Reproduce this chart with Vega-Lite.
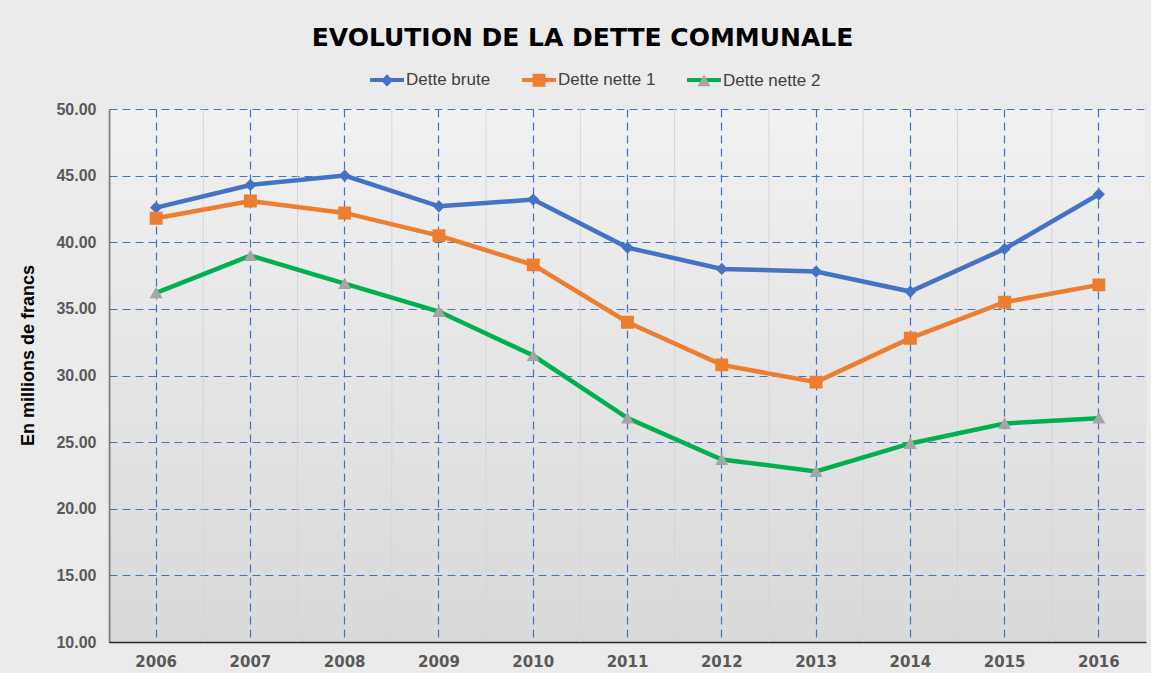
{
  "$schema": "https://vega.github.io/schema/vega-lite/v6.json",
  "width": 1037,
  "height": 533,
  "autosize": {"type": "none"},
  "padding": {"left": 109, "top": 109, "right": 5, "bottom": 31},
  "background": "#ebebeb",
  "title": {
    "text": "EVOLUTION DE LA DETTE COMMUNALE",
    "font": "DejaVu Sans",
    "fontSize": 25,
    "fontWeight": "bold",
    "color": "#000000",
    "anchor": "middle",
    "frame": "bounds",
    "offset": 10
  },
  "config": {
    "view": {
      "stroke": null,
      "fill": {
        "gradient": "linear",
        "x1": 0, "y1": 0, "x2": 0, "y2": 1,
        "stops": [
          {"offset": 0, "color": "#f1f1f1"},
          {"offset": 1, "color": "#d9d9d9"}
        ]
      }
    },
    "axisX": {
      "title": null,
      "labelAngle": 0,
      "labelFont": "DejaVu Sans",
      "labelFontSize": 15,
      "labelFontWeight": "bold",
      "labelColor": "#595959",
      "labelPadding": 12,
      "ticks": false,
      "domainColor": "#262626",
      "domainWidth": 1.5,
      "grid": true,
      "gridColor": "#4472C4",
      "gridDash": [8, 5],
      "gridWidth": 1.2,
      "bandPosition": 0.5
    },
    "axisY": {
      "titleFont": "Liberation Sans",
      "titleFontSize": 18,
      "titleFontWeight": "bold",
      "titleColor": "#000000",
      "titleX": -72,
      "titleY": 246,
      "labelFont": "Liberation Sans",
      "labelFontSize": 16,
      "labelFontWeight": "bold",
      "labelColor": "#595959",
      "labelPadding": 13,
      "ticks": false,
      "domainColor": "#262626",
      "domainWidth": 1.5,
      "grid": true,
      "gridColor": "#4472C4",
      "gridDash": [8, 5],
      "gridWidth": 1.2
    },
    "legend": {
      "labelFont": "Liberation Sans",
      "labelFontSize": 17,
      "labelColor": "#404040",
      "padding": 0
    }
  },
  "data": {
    "values": [
      {"year": "2006", "series": "Dette brute", "value": 42.6},
      {"year": "2007", "series": "Dette brute", "value": 44.3},
      {"year": "2008", "series": "Dette brute", "value": 45.0},
      {"year": "2009", "series": "Dette brute", "value": 42.7},
      {"year": "2010", "series": "Dette brute", "value": 43.2},
      {"year": "2011", "series": "Dette brute", "value": 39.6},
      {"year": "2012", "series": "Dette brute", "value": 38.0},
      {"year": "2013", "series": "Dette brute", "value": 37.8},
      {"year": "2014", "series": "Dette brute", "value": 36.3},
      {"year": "2015", "series": "Dette brute", "value": 39.5},
      {"year": "2016", "series": "Dette brute", "value": 43.6},
      {"year": "2006", "series": "Dette nette 1", "value": 41.8},
      {"year": "2007", "series": "Dette nette 1", "value": 43.1},
      {"year": "2008", "series": "Dette nette 1", "value": 42.2},
      {"year": "2009", "series": "Dette nette 1", "value": 40.5},
      {"year": "2010", "series": "Dette nette 1", "value": 38.3},
      {"year": "2011", "series": "Dette nette 1", "value": 34.0},
      {"year": "2012", "series": "Dette nette 1", "value": 30.8},
      {"year": "2013", "series": "Dette nette 1", "value": 29.5},
      {"year": "2014", "series": "Dette nette 1", "value": 32.8},
      {"year": "2015", "series": "Dette nette 1", "value": 35.5},
      {"year": "2016", "series": "Dette nette 1", "value": 36.8},
      {"year": "2006", "series": "Dette nette 2", "value": 36.2},
      {"year": "2007", "series": "Dette nette 2", "value": 39.0},
      {"year": "2008", "series": "Dette nette 2", "value": 36.9},
      {"year": "2009", "series": "Dette nette 2", "value": 34.8},
      {"year": "2010", "series": "Dette nette 2", "value": 31.5},
      {"year": "2011", "series": "Dette nette 2", "value": 26.8},
      {"year": "2012", "series": "Dette nette 2", "value": 23.7},
      {"year": "2013", "series": "Dette nette 2", "value": 22.8},
      {"year": "2014", "series": "Dette nette 2", "value": 24.9},
      {"year": "2015", "series": "Dette nette 2", "value": 26.4},
      {"year": "2016", "series": "Dette nette 2", "value": 26.8}
    ]
  },
  "layer": [
    {
      "transform": [{"filter": "datum.series === 'Dette brute'"}],
      "mark": {"type": "rule", "color": "#d6d6d6", "strokeWidth": 1},
      "encoding": {
        "x": {
          "field": "year", "type": "ordinal", "bandPosition": 0,
          "scale": {"type": "band", "paddingInner": 0, "paddingOuter": 0},
          "axis": {"title": null}
        }
      }
    },
    {
      "mark": {"type": "line", "strokeWidth": 4.5},
      "encoding": {
        "x": {
          "field": "year", "type": "ordinal", "bandPosition": 0.5,
          "scale": {"type": "band", "paddingInner": 0, "paddingOuter": 0},
          "axis": {"title": null}
        },
        "y": {
          "field": "value", "type": "quantitative",
          "scale": {"domain": [10, 50], "nice": false, "zero": false},
          "axis": {
            "title": "En  millions de francs",
            "values": [10, 15, 20, 25, 30, 35, 40, 45, 50],
            "format": ".2f"
          }
        },
        "stroke": {
          "field": "series", "type": "nominal",
          "scale": {"range": ["#4472C4", "#ED7D31", "#00B050"]},
          "legend": {
            "title": null,
            "orient": "none",
            "legendX": 259,
            "legendY": -48,
            "direction": "horizontal",
            "symbolType": "M-1,0L1,0",
            "symbolSize": 1156,
            "symbolStrokeWidth": 4,
            "labelOffset": 0,
            "labelOpacity": 0,
            "columnPadding": 23,
            "zindex": 0
          }
        }
      }
    },
    {
      "mark": {"type": "point", "filled": true, "opacity": 1, "size": 1156, "strokeWidth": 0},
      "encoding": {
        "x": {
          "field": "year", "type": "ordinal", "bandPosition": 0.5,
          "scale": {"type": "band", "paddingInner": 0, "paddingOuter": 0},
          "axis": {"title": null}
        },
        "y": {
          "field": "value", "type": "quantitative",
          "scale": {"domain": [10, 50], "nice": false, "zero": false},
          "axis": {
            "title": "En  millions de francs",
            "values": [10, 15, 20, 25, 30, 35, 40, 45, 50],
            "format": ".2f"
          }
        },
        "fill": {
          "field": "series", "type": "nominal",
          "scale": {
            "domain": ["Dette brute", "Dette nette 1", "Dette nette 2"],
            "range": ["#4472C4", "#ED7D31", "#A5A5A5"]
          },
          "legend": {
            "title": null,
            "orient": "none",
            "legendX": 259,
            "legendY": -48,
            "direction": "horizontal",
            "symbolSize": 1156,
            "symbolStrokeWidth": 4,
            "symbolStrokeColor": "transparent",
            "labelOffset": 0,
            "columnPadding": 23,
            "zindex": 1
          }
        },
        "shape": {
          "field": "series", "type": "nominal",
          "scale": {
            "domain": ["Dette brute", "Dette nette 1", "Dette nette 2"],
            "range": [
              "M-1,0L1,0M0,-0.36L0.36,0L0,0.36L-0.36,0Z",
              "M-1,0L1,0M-0.38,-0.38L0.38,-0.38L0.38,0.38L-0.38,0.38Z",
              "M-1,0L1,0M0,-0.36L0.38,0.32L-0.38,0.32Z"
            ]
          },
          "legend": {
            "title": null,
            "orient": "none",
            "legendX": 259,
            "legendY": -48,
            "direction": "horizontal",
            "symbolSize": 1156,
            "symbolStrokeWidth": 4,
            "symbolStrokeColor": "transparent",
            "labelOffset": 0,
            "columnPadding": 23,
            "zindex": 1
          }
        }
      }
    }
  ]
}
